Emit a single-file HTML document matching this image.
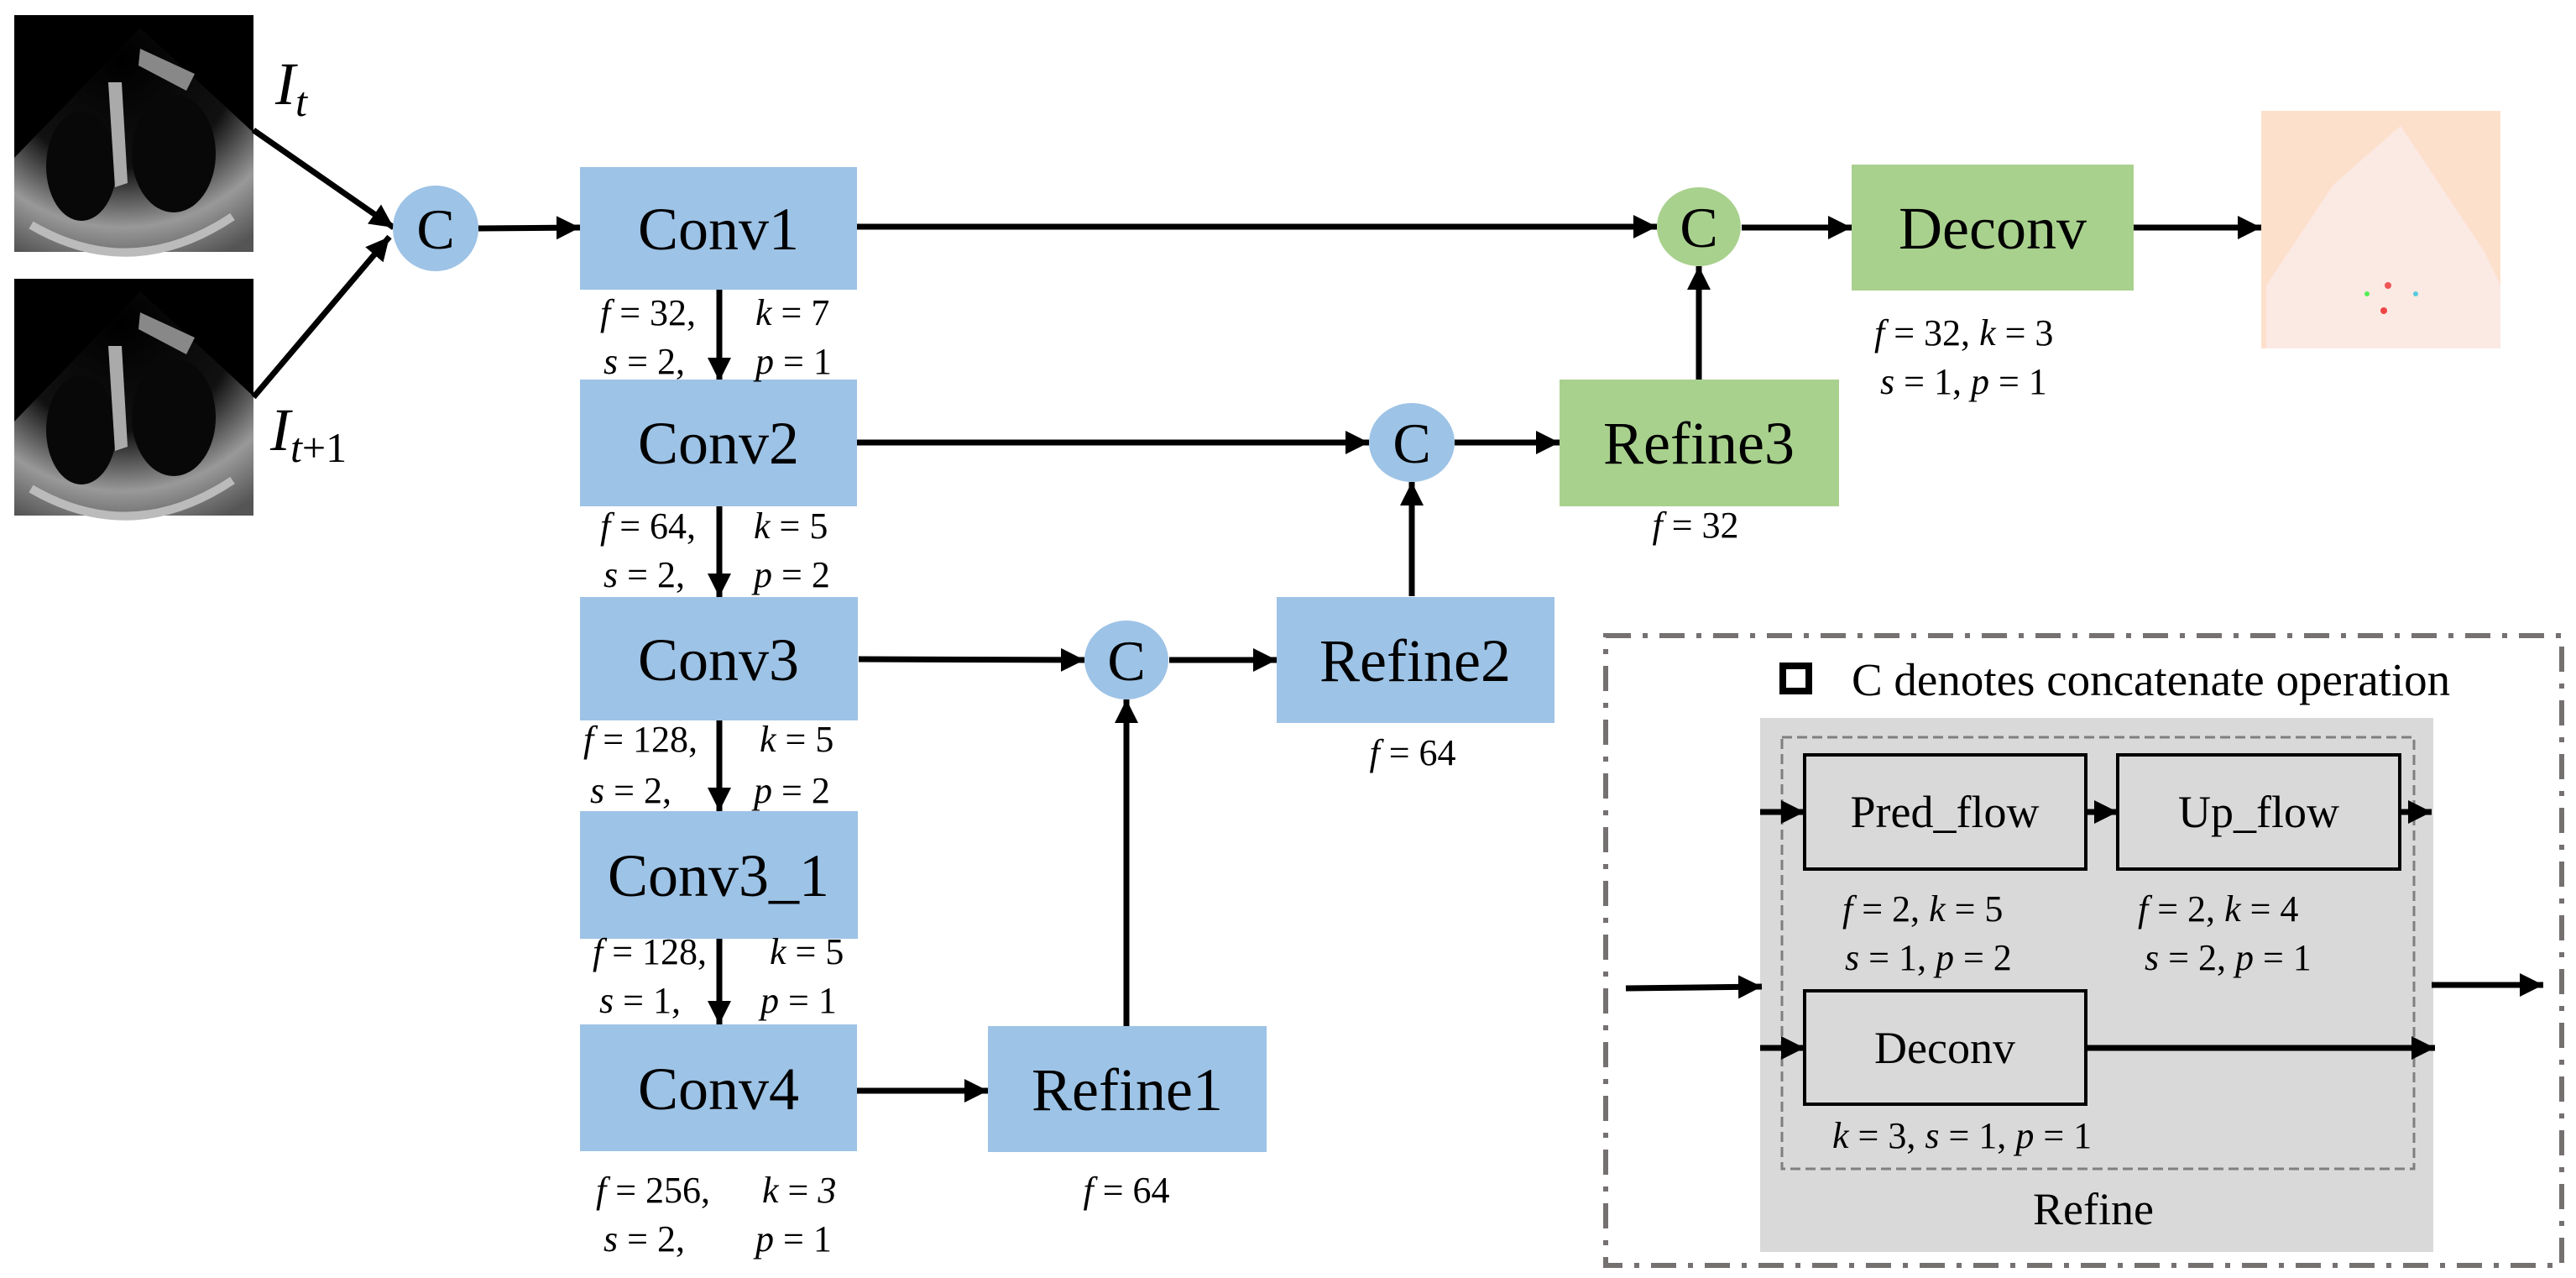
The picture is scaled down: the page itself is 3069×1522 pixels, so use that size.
<!DOCTYPE html>
<html><head><meta charset="utf-8"><style>
html,body{margin:0;padding:0;background:#fff;}
svg{display:block;}
text{font-family:"Liberation Serif","Times New Roman",serif;fill:#000;}
.box{font-size:72px;}
.lb{font-size:44px;}
.sm{font-size:44px;}
</style></head><body>
<svg width="3069" height="1522" viewBox="0 0 3069 1522" xmlns="http://www.w3.org/2000/svg">
<defs>
<marker id="ah" markerUnits="userSpaceOnUse" markerWidth="30" markerHeight="30" refX="28" refY="14" orient="auto">
<path d="M0,0 L28,14 L0,28 z" fill="#000"/>
</marker>
<radialGradient id="us" cx="0.45" cy="0.15" r="0.95">
<stop offset="0" stop-color="#000"/>
<stop offset="0.5" stop-color="#111"/>
<stop offset="0.78" stop-color="#999"/>
<stop offset="1" stop-color="#555"/>
</radialGradient>
<g id="echo">
<rect x="0" y="0" width="285" height="282" fill="#000"/>
<path d="M150,15 L285,140 L285,282 L0,282 L0,170 Z" fill="url(#us)"/>
<ellipse cx="80" cy="180" rx="42" ry="65" fill="#080808"/>
<ellipse cx="190" cy="165" rx="50" ry="70" fill="#080808"/>
<path d="M112,80 L128,80 L135,200 L120,205 Z" fill="#aaa"/>
<path d="M150,40 L215,70 L205,90 L148,60 Z" fill="#888"/>
<path d="M20,250 Q140,320 260,240" stroke="#bbb" stroke-width="10" fill="none"/>
</g>
</defs>

<use href="#echo" x="17" y="18"/>
<use href="#echo" x="17" y="332"/>
<text x="328" y="124" font-size="72" font-style="italic">I<tspan font-size="50" dy="14">t</tspan></text>
<text x="322" y="536" font-size="72" font-style="italic">I<tspan font-size="50" dy="14">t</tspan><tspan font-size="50" font-style="normal">+1</tspan></text>

<g stroke="#000" stroke-width="7" fill="none" marker-end="url(#ah)">
<line x1="302" y1="155" x2="469" y2="271"/>
<line x1="302" y1="473" x2="464" y2="282"/>
<line x1="570" y1="272" x2="691" y2="271"/>
<line x1="1021" y1="270" x2="1974" y2="270"/>
<line x1="2075" y1="271" x2="2206" y2="271"/>
<line x1="2542" y1="271" x2="2694" y2="271"/>
<line x1="2024" y1="454" x2="2024" y2="317"/>
<line x1="1021" y1="527" x2="1631" y2="527"/>
<line x1="1733" y1="527" x2="1858" y2="527"/>
<line x1="1682" y1="710" x2="1682" y2="574"/>
<line x1="1023" y1="785" x2="1292" y2="786"/>
<line x1="1393" y1="786" x2="1521" y2="786"/>
<line x1="1342" y1="1222" x2="1342" y2="833"/>
<line x1="1021" y1="1299" x2="1177" y2="1299"/>
<line x1="857" y1="345" x2="857" y2="454"/>
<line x1="857" y1="603" x2="857" y2="711"/>
<line x1="857" y1="858" x2="857" y2="966"/>
<line x1="857" y1="1118" x2="857" y2="1220"/>
</g>

<ellipse cx="519" cy="272" rx="51" ry="51" fill="#9dc3e6"/>
<text x="519" y="296" font-size="68" text-anchor="middle">C</text>
<ellipse cx="2024" cy="270" rx="50" ry="47" fill="#a9d18e"/>
<text x="2024" y="294" font-size="68" text-anchor="middle">C</text>
<ellipse cx="1682" cy="527" rx="51" ry="47" fill="#9dc3e6"/>
<text x="1682" y="551" font-size="68" text-anchor="middle">C</text>
<ellipse cx="1342" cy="786" rx="50" ry="47" fill="#9dc3e6"/>
<text x="1342" y="810" font-size="68" text-anchor="middle">C</text>

<g fill="#9dc3e6">
<rect x="691" y="199" width="330" height="146"/>
<rect x="691" y="452" width="330" height="151"/>
<rect x="691" y="711" width="331" height="147"/>
<rect x="691" y="966" width="331" height="152"/>
<rect x="691" y="1220" width="330" height="151"/>
<rect x="1177" y="1222" width="332" height="150"/>
<rect x="1521" y="711" width="331" height="150"/>
</g>
<g fill="#a9d18e">
<rect x="1858" y="452" width="333" height="151"/>
<rect x="2206" y="196" width="336" height="150"/>
</g>
<g class="box" text-anchor="middle">
<text x="856" y="297">Conv1</text>
<text x="856" y="552">Conv2</text>
<text x="856" y="810">Conv3</text>
<text x="856" y="1067">Conv3_1</text>
<text x="856" y="1321">Conv4</text>
<text x="1343" y="1322">Refine1</text>
<text x="1686" y="811">Refine2</text>
<text x="2024" y="552">Refine3</text>
<text x="2374" y="296">Deconv</text>
</g>

<g class="lb">
<text x="715" y="387"><tspan font-style="italic">f</tspan> = 32,</text><text x="900" y="387"><tspan font-style="italic">k</tspan> = 7</text>
<text x="719" y="445"><tspan font-style="italic">s</tspan> = 2,</text><text x="900" y="445"><tspan font-style="italic">p</tspan> = 1</text>
<text x="715" y="641"><tspan font-style="italic">f</tspan> = 64,</text><text x="898" y="641"><tspan font-style="italic">k</tspan> = 5</text>
<text x="719" y="699"><tspan font-style="italic">s</tspan> = 2,</text><text x="898" y="699"><tspan font-style="italic">p</tspan> = 2</text>
<text x="695" y="895"><tspan font-style="italic">f</tspan> = 128,</text><text x="905" y="895"><tspan font-style="italic">k</tspan> = 5</text>
<text x="703" y="956"><tspan font-style="italic">s</tspan> = 2,</text><text x="898" y="956"><tspan font-style="italic">p</tspan> = 2</text>
<text x="706" y="1148"><tspan font-style="italic">f</tspan> = 128,</text><text x="917" y="1148"><tspan font-style="italic">k</tspan> = 5</text>
<text x="714" y="1206"><tspan font-style="italic">s</tspan> = 1,</text><text x="906" y="1206"><tspan font-style="italic">p</tspan> = 1</text>
<text x="710" y="1432"><tspan font-style="italic">f</tspan> = 256,</text><text x="908" y="1432"><tspan font-style="italic">k</tspan> = <tspan font-style="italic">3</tspan></text>
<text x="719" y="1490"><tspan font-style="italic">s</tspan> = 2,</text><text x="900" y="1490"><tspan font-style="italic">p</tspan> = 1</text>
<text x="1342" y="1432" text-anchor="middle"><tspan font-style="italic">f</tspan> = 64</text>
<text x="1683" y="911" text-anchor="middle"><tspan font-style="italic">f</tspan> = 64</text>
<text x="2020" y="640" text-anchor="middle"><tspan font-style="italic">f</tspan> = 32</text>
<text x="2233" y="411"><tspan font-style="italic">f</tspan> = 32, <tspan font-style="italic">k</tspan> = 3</text>
<text x="2240" y="469"><tspan font-style="italic">s</tspan> = 1,   <tspan font-style="italic">p</tspan> = 1</text>
</g>

<rect x="2694" y="132" width="285" height="283" fill="#fde0cc"/>
<path d="M2860,150 L2960,300 L2979,340 L2979,415 L2700,415 L2700,340 L2780,220 Z" fill="#fbe9e4"/>
<circle cx="2845" cy="340" r="4" fill="#e55"/><circle cx="2820" cy="350" r="3" fill="#5e5"/>
<circle cx="2878" cy="350" r="3" fill="#5cd"/><circle cx="2840" cy="370" r="4" fill="#e44"/>

<rect x="1913" y="757" width="1139" height="750" fill="none" stroke="#767171" stroke-width="6" stroke-dasharray="30 14 6 14"/>
<rect x="2124" y="793" width="31" height="30" fill="#fff" stroke="#000" stroke-width="8"/>
<text x="2206" y="828" font-size="55">C denotes concatenate operation</text>
<rect x="2097" y="855" width="802" height="636" fill="#d9d9d9"/>
<rect x="2123" y="878" width="753" height="514" fill="none" stroke="#7f7f7f" stroke-width="3" stroke-dasharray="12 6"/>
<g fill="#d9d9d9" stroke="#000" stroke-width="4">
<rect x="2150" y="899" width="335" height="136"/>
<rect x="2523" y="899" width="336" height="136"/>
<rect x="2150" y="1180" width="335" height="135"/>
</g>
<g font-size="54" text-anchor="middle">
<text x="2317" y="985">Pred_flow</text>
<text x="2691" y="985">Up_flow</text>
<text x="2317" y="1266">Deconv</text>
<text x="2494" y="1458">Refine</text>
</g>
<g stroke="#000" stroke-width="7" fill="none" marker-end="url(#ah)">
<line x1="2097" y1="967" x2="2150" y2="967"/>
<line x1="2485" y1="967" x2="2523" y2="967"/>
<line x1="2859" y1="967" x2="2897" y2="967"/>
<line x1="1937" y1="1177" x2="2099" y2="1175"/>
<line x1="2897" y1="1173" x2="3030" y2="1173"/>
<line x1="2097" y1="1248" x2="2150" y2="1248"/>
<line x1="2485" y1="1248" x2="2901" y2="1248"/>
</g>
<g class="sm">
<text x="2195" y="1097"><tspan font-style="italic">f</tspan> = 2,  <tspan font-style="italic">k</tspan> = 5</text>
<text x="2198" y="1155"><tspan font-style="italic">s</tspan> = 1,  <tspan font-style="italic">p</tspan> = 2</text>
<text x="2547" y="1097"><tspan font-style="italic">f</tspan> = 2,    <tspan font-style="italic">k</tspan> = 4</text>
<text x="2555" y="1155"><tspan font-style="italic">s</tspan> = 2,    <tspan font-style="italic">p</tspan> = 1</text>
<text x="2183" y="1367"><tspan font-style="italic">k</tspan> = 3, <tspan font-style="italic">s</tspan> = 1, <tspan font-style="italic">p</tspan> = 1</text>
</g>
</svg>
</body></html>
